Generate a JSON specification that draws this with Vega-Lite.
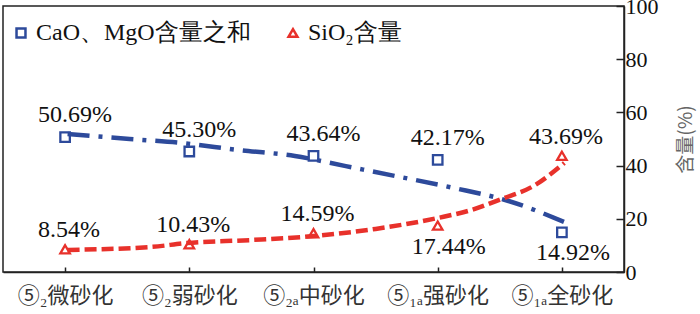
{
  "$schema": "https://vega.github.io/schema/vega-lite/v6.json",
  "width": 621,
  "height": 266,
  "autosize": {"type": "none"},
  "padding": {"left": 3, "top": 6, "right": 76, "bottom": 42},
  "background": "white",
  "config": {
    "view": {"stroke": "#222", "strokeWidth": 1.5},
    "font": "Liberation Serif",
    "axis": {"domainColor": "#222", "domainWidth": 1.5, "tickColor": "#222", "tickWidth": 1.5, "grid": false},
    "legend": {
      "orient": "none", "legendX": 6, "legendY": 15, "direction": "horizontal",
      "labelFont": "Liberation Serif", "labelFontSize": 24, "labelColor": "#111", "labelLimit": 400,
      "symbolStrokeWidth": 2.5, "symbolSize": 80, "columnPadding": 30, "labelOffset": 3, "title": null
    }
  },
  "datasets": {
    "points": [
      {"cat": "⑤₂微砂化", "series": "CaO、MgO含量之和", "value": 50.69, "label": "50.69%"},
      {"cat": "⑤₂弱砂化", "series": "CaO、MgO含量之和", "value": 45.30, "label": "45.30%"},
      {"cat": "⑤₂ₐ中砂化", "series": "CaO、MgO含量之和", "value": 43.64, "label": "43.64%"},
      {"cat": "⑤₁ₐ强砂化", "series": "CaO、MgO含量之和", "value": 42.17, "label": "42.17%"},
      {"cat": "⑤₁ₐ全砂化", "series": "CaO、MgO含量之和", "value": 14.92, "label": "14.92%"},
      {"cat": "⑤₂微砂化", "series": "SiO₂含量", "value": 8.54, "label": "8.54%"},
      {"cat": "⑤₂弱砂化", "series": "SiO₂含量", "value": 10.43, "label": "10.43%"},
      {"cat": "⑤₂ₐ中砂化", "series": "SiO₂含量", "value": 14.59, "label": "14.59%"},
      {"cat": "⑤₁ₐ强砂化", "series": "SiO₂含量", "value": 17.44, "label": "17.44%"},
      {"cat": "⑤₁ₐ全砂化", "series": "SiO₂含量", "value": 43.69, "label": "43.69%"}
    ],
    "trend": [
      {"series": "CaO、MgO含量之和", "t": 1.02, "value": 51.9},
      {"series": "CaO、MgO含量之和", "t": 1.52, "value": 50.0},
      {"series": "CaO、MgO含量之和", "t": 1.94, "value": 48.5},
      {"series": "CaO、MgO含量之和", "t": 2.39, "value": 45.9},
      {"series": "CaO、MgO含量之和", "t": 2.85, "value": 43.6},
      {"series": "CaO、MgO含量之和", "t": 3.26, "value": 39.8},
      {"series": "CaO、MgO含量之和", "t": 3.70, "value": 35.7},
      {"series": "CaO、MgO含量之和", "t": 4.13, "value": 31.6},
      {"series": "CaO、MgO含量之和", "t": 4.57, "value": 26.7},
      {"series": "CaO、MgO含量之和", "t": 5.02, "value": 18.8},
      {"series": "SiO₂含量", "t": 1.02, "value": 8.3},
      {"series": "SiO₂含量", "t": 1.69, "value": 9.4},
      {"series": "SiO₂含量", "t": 1.98, "value": 10.9},
      {"series": "SiO₂含量", "t": 2.49, "value": 12.0},
      {"series": "SiO₂含量", "t": 3.0, "value": 13.5},
      {"series": "SiO₂含量", "t": 3.5, "value": 16.2},
      {"series": "SiO₂含量", "t": 4.0, "value": 20.3},
      {"series": "SiO₂含量", "t": 4.27, "value": 23.3},
      {"series": "SiO₂含量", "t": 4.51, "value": 27.4},
      {"series": "SiO₂含量", "t": 4.77, "value": 32.3},
      {"series": "SiO₂含量", "t": 5.02, "value": 41.0}
    ]
  },
  "layer": [
    {
      "data": {"name": "trend"},
      "encoding": {
        "x": {"field": "t", "type": "quantitative", "scale": {"domain": [0.5, 5.5]}, "axis": null},
        "y": {
          "field": "value", "type": "quantitative", "title": "含量(%)",
          "scale": {"domain": [0, 100]},
          "axis": {
            "orient": "right", "values": [0, 20, 40, 60, 80, 100], "tickSize": -8,
            "labelFont": "Liberation Serif", "labelFontSize": 22, "labelColor": "#111", "labelPadding": 9,
            "titleFont": "Noto Sans CJK SC", "titleFontSize": 19, "titleFontWeight": "normal", "titleColor": "#666",
            "titleAngle": 270, "titlePadding": 37
          }
        }
      },
      "layer": [
        {
          "transform": [{"filter": "datum.series === 'CaO、MgO含量之和'"}],
          "mark": {"type": "line", "color": "#2D4A9B", "strokeWidth": 4.5, "strokeDash": [22, 9, 4, 9], "interpolate": "monotone"}
        },
        {
          "transform": [{"filter": "datum.series === 'SiO₂含量'"}],
          "mark": {"type": "line", "color": "#E8312B", "strokeWidth": 4.5, "strokeDash": [12, 5], "interpolate": "monotone"}
        }
      ]
    },
    {
      "data": {"name": "points"},
      "encoding": {
        "x": {
          "field": "cat", "type": "ordinal", "sort": null,
          "scale": {"type": "point", "padding": 0.5},
          "axis": {
            "orient": "bottom", "title": null, "tickSize": -5, "labelAngle": 0,
            "labelFont": "Noto Sans CJK SC", "labelFontSize": 22, "labelColor": "#333", "labelPadding": 18
          }
        },
        "y": {"field": "value", "type": "quantitative", "title": "含量(%)"}
      },
      "layer": [
        {
          "mark": {"type": "point", "filled": false, "strokeWidth": 2.3, "size": 90, "opacity": 1},
          "encoding": {
            "color": {
              "field": "series", "type": "nominal",
              "scale": {"domain": ["CaO、MgO含量之和", "SiO₂含量"], "range": ["#2D4A9B", "#E8312B"]}
            },
            "shape": {
              "field": "series", "type": "nominal",
              "scale": {"domain": ["CaO、MgO含量之和", "SiO₂含量"], "range": ["square", "triangle-up"]}
            }
          }
        },
        {
          "transform": [{"filter": "datum.series === 'CaO、MgO含量之和' && datum.cat !== '⑤₁ₐ全砂化'"}],
          "mark": {"type": "text", "fontSize": 24, "font": "Liberation Serif", "color": "#111", "dy": -22, "dx": 10, "baseline": "middle"},
          "encoding": {"text": {"field": "label"}}
        },
        {
          "transform": [{"filter": "datum.series === 'SiO₂含量' && datum.cat !== '⑤₁ₐ强砂化'"}],
          "mark": {"type": "text", "fontSize": 24, "font": "Liberation Serif", "color": "#111", "dy": -19, "dx": 4, "baseline": "middle"},
          "encoding": {"text": {"field": "label"}}
        },
        {
          "transform": [{"filter": "(datum.series === 'SiO₂含量' && datum.cat === '⑤₁ₐ强砂化') || (datum.series === 'CaO、MgO含量之和' && datum.cat === '⑤₁ₐ全砂化')"}],
          "mark": {"type": "text", "fontSize": 24, "font": "Liberation Serif", "color": "#111", "dy": 21, "dx": 11, "baseline": "middle"},
          "encoding": {"text": {"field": "label"}}
        }
      ]
    }
  ],
  "resolve": {"scale": {"x": "independent"}}
}
